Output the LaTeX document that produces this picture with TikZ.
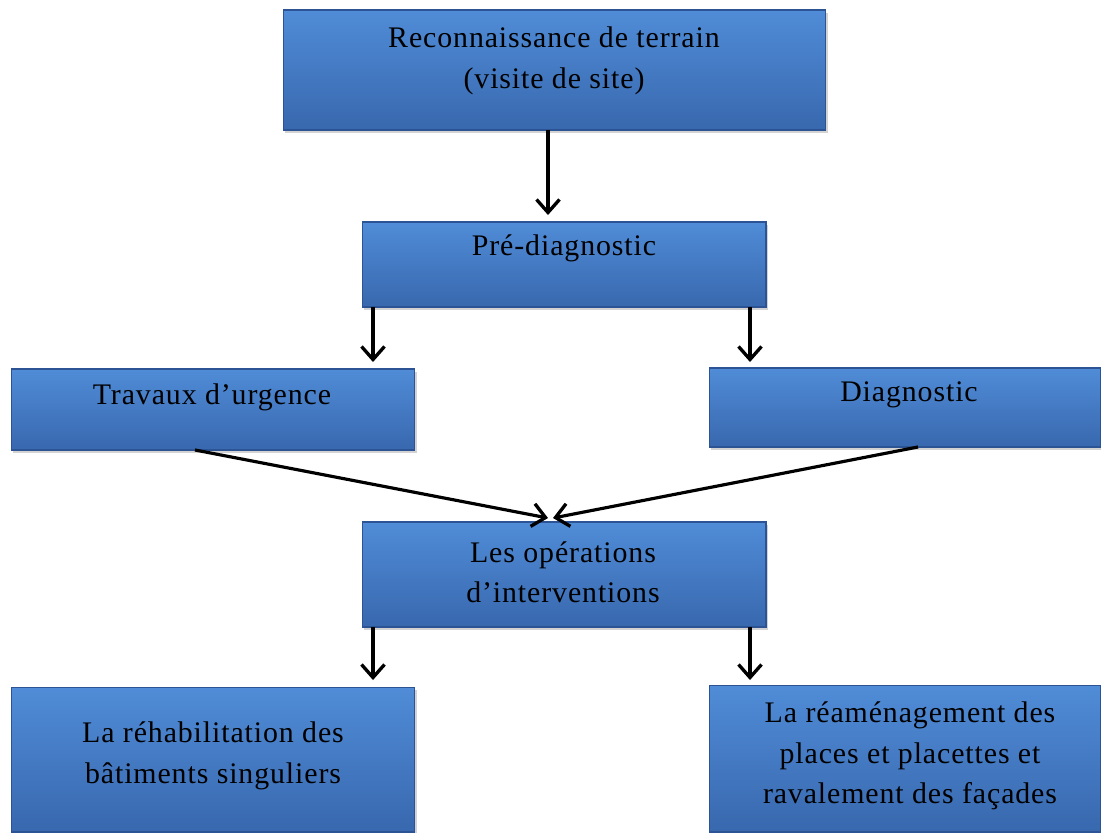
\documentclass[tikz,border=0pt]{standalone}
\usepackage{fontspec}
\setmainfont{Liberation Serif}[LetterSpace=3]
\usetikzlibrary{arrows.meta,shadows}

\definecolor{boxtop}{RGB}{80,140,215}
\definecolor{boxbot}{RGB}{56,104,174}
\definecolor{boxedge}{RGB}{44,84,148}

\begin{document}
\begin{tikzpicture}[x=0.02cm, y=-0.02cm, > = {Straight Barb[length=2.6mm, width=4.6mm, line width=1.9pt]},
  bloc/.style = {draw=boxedge, line width=0.6pt, top color=boxtop, bottom color=boxbot,
                 inner sep=0pt, outer sep=0pt,
                 drop shadow={shadow xshift=1.2pt, shadow yshift=-1.5pt, opacity=0.35}},
  txt/.style  = {align=center, inner sep=0pt, font=\fontsize{17}{23}\selectfont},
  fleche/.style = {->, line width=1.8pt}]
\useasboundingbox (0,0) rectangle (1101,832);
% les blocs
\node[bloc, minimum width=10.86cm, minimum height=2.40cm] (recon)   at (554.5,70)    {};
\node[bloc, minimum width=8.08cm,  minimum height=1.70cm] (prediag) at (564,264.5)   {};
\node[bloc, minimum width=8.08cm,  minimum height=1.62cm] (urgence) at (213,409.5)   {};
\node[bloc, minimum width=7.84cm,  minimum height=1.58cm] (diag)    at (905,407.5)   {};
\node[bloc, minimum width=8.08cm,  minimum height=2.10cm] (ops)     at (564,574.5)   {};
\node[bloc, minimum width=8.08cm,  minimum height=2.90cm] (rehab)   at (213,759.5)   {};
\node[bloc, minimum width=7.84cm,  minimum height=2.94cm] (ream)    at (905,758.5)   {};
% les textes
\node[txt] (recon-t)   at (554,61)  {Reconnaissance de terrain\\(visite de site)};
\node[txt] (prediag-t) at (564,248) {Pré-diagnostic};
\node[txt] (urgence-t) at (212,397) {Travaux d’urgence};
\node[txt] (diag-t)    at (909,395) {Diagnostic};
\node[txt] (ops-t)     at (563,572) {Les opérations\\d’interventions};
\node[txt] (rehab-t)   at (213,756) {La réhabilitation des\\bâtiments singuliers};
\node[txt] (ream-t)    at (910,756) {La réaménagement des\\places et placettes et\\ravalement des façades};
% les fleches
\draw[fleche] (recon.south -| 548,0) -- ([yshift=0.14cm]prediag.north -| 548,0);
\draw[fleche] (prediag.south -| 373,0) -- ([yshift=0.14cm]urgence.north -| 373,0);
\draw[fleche] (prediag.south -| 750,0) -- ([yshift=0.12cm]diag.north -| 750,0);
\draw[fleche] ([xshift=-0.36cm]urgence.south) -- ([xshift=-0.32cm,yshift=0.08cm]ops.north);
\draw[fleche] ([xshift=0.26cm]diag.south) -- ([xshift=-0.22cm,yshift=0.08cm]ops.north);
\draw[fleche] (ops.south -| 373,0) -- ([yshift=0.14cm]rehab.north -| 373,0);
\draw[fleche] (ops.south -| 750,0) -- ([yshift=0.10cm]ream.north -| 750,0);
\end{tikzpicture}
\end{document}
